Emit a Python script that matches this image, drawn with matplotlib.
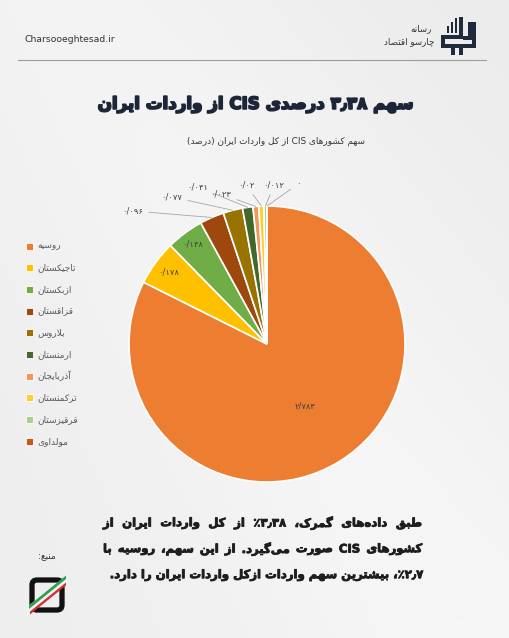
import numpy as np
import matplotlib
matplotlib.use('Agg')
import matplotlib.pyplot as plt
import matplotlib.patheffects as pe
from matplotlib.patches import Rectangle, FancyBboxPatch, Polygon

"""
CIS share of Iran imports - pie chart in a Persian infographic card
"""

W, H = 510, 638

countries = ['روسیه', 'تاجیکستان', 'ازبکستان', 'قزاقستان', 'بلاروس',
             'ارمنستان', 'آذربایجان', 'ترکمنستان', 'قرقیزستان', 'مولداوی']
values = [2.783, 0.178, 0.148, 0.096, 0.077, 0.041, 0.023, 0.02, 0.012, 0.0]
colors = ['#ED7D31', '#FFC000', '#70AD47', '#9E480E', '#997300',
          '#43682B', '#F1975A', '#FFCD33', '#A9D18E', '#C55A11']

title = 'سهم ۳٫۳۸ درصدی CIS از واردات ایران'
subtitle = 'سهم کشورهای CIS از کل واردات ایران (درصد)'
body_lines = ['طبق داده‌های گمرک، ۳٫۳۸٪ از کل واردات ایران از',
              'کشورهای CIS صورت می‌گیرد. از این سهم، روسیه با',
              '۲٫۷٪، بیشترین سهم واردات ازکل واردات ایران را دارد.']


"""
minimal arabic/persian shaping + visual reordering (no external libs)
"""
_table = [('ء', 0xFE80, 1), ('آ', 0xFE81, 2), ('أ', 0xFE83, 2), ('ؤ', 0xFE85, 2),
          ('إ', 0xFE87, 2), ('ئ', 0xFE89, 4), ('ا', 0xFE8D, 2), ('ب', 0xFE8F, 4),
          ('ة', 0xFE93, 2), ('ت', 0xFE95, 4), ('ث', 0xFE99, 4), ('ج', 0xFE9D, 4),
          ('ح', 0xFEA1, 4), ('خ', 0xFEA5, 4), ('د', 0xFEA9, 2), ('ذ', 0xFEAB, 2),
          ('ر', 0xFEAD, 2), ('ز', 0xFEAF, 2), ('س', 0xFEB1, 4), ('ش', 0xFEB5, 4),
          ('ص', 0xFEB9, 4), ('ض', 0xFEBD, 4), ('ط', 0xFEC1, 4), ('ظ', 0xFEC5, 4),
          ('ع', 0xFEC9, 4), ('غ', 0xFECD, 4), ('ف', 0xFED1, 4), ('ق', 0xFED5, 4),
          ('ك', 0xFED9, 4), ('ل', 0xFEDD, 4), ('م', 0xFEE1, 4), ('ن', 0xFEE5, 4),
          ('ه', 0xFEE9, 4), ('و', 0xFEED, 2), ('ى', 0xFEEF, 2), ('ي', 0xFEF1, 4),
          ('پ', 0xFB56, 4), ('چ', 0xFB7A, 4), ('ژ', 0xFB8A, 2), ('ک', 0xFB8E, 4),
          ('گ', 0xFB92, 4), ('ی', 0xFBFC, 4)]
FORMS = {c: (s, n) for c, s, n in _table}
LAMALEF = {'آ': 0xFEF5, 'أ': 0xFEF7, 'إ': 0xFEF9, 'ا': 0xFEFB}


def jt(c):
    return FORMS[c][1] if c in FORMS else 0


def shape(s):
    out = []
    i = 0
    while i < len(s):
        c = s[i]
        p = i > 0 and jt(s[i - 1]) == 4 and jt(c) in (2, 4)
        if c == 'ل' and i + 1 < len(s) and s[i + 1] in LAMALEF:
            out.append(chr(LAMALEF[s[i + 1]] + (1 if p else 0)))
            i += 2
            continue
        if c in FORMS:
            start, n = FORMS[c]
            nx = n == 4 and i + 1 < len(s) and jt(s[i + 1]) in (2, 4)
            idx = 3 if (p and nx) else 2 if nx else 1 if p else 0
            out.append(chr(start + idx))
        elif c != '\u200c':
            out.append(c)
        i += 1
    return ''.join(out)


def isdig(c):
    return c.isdigit() or '\u06F0' <= c <= '\u06F9'


MIRROR = {'(': ')', ')': '('}


def vis_word(w):
    cls = []
    for k, c in enumerate(w):
        if isdig(c) or (c.isascii() and c.isalpha()):
            cls.append('L')
        elif c in '٫/.,' and 0 < k < len(w) - 1 and isdig(w[k - 1]) and isdig(w[k + 1]):
            cls.append('L')
        else:
            cls.append('R')
    groups = []
    for c, t in zip(w, cls):
        if groups and groups[-1][0] == t:
            groups[-1][1].append(c)
        else:
            groups.append([t, [c]])
    res = ''
    for t, chars in reversed(groups):
        if t == 'R':
            res += ''.join(MIRROR.get(c, c) for c in reversed(chars))
        else:
            res += ''.join(chars)
    return res


def fa(s):
    words = shape(s).split(' ')
    return ' '.join(vis_word(w) for w in reversed(words))


def fa_words(s):
    # visual words, in logical (right to left) order
    return [vis_word(w) for w in shape(s).split(' ')]


def fa_num(v):
    s = '{:g}'.format(v).replace('.', '/')
    return s.translate(str.maketrans('0123456789', '۰۱۲۳۴۵۶۷۸۹'))


plt.rcParams['font.family'] = ['DejaVu Sans']

fig = plt.figure(figsize=(W / 100, H / 100), dpi=100)

# background
bg = fig.add_axes([0, 0, 1, 1])
bg.set_xlim(0, W)
bg.set_ylim(H, 0)
bg.axis('off')
yy, xx = np.mgrid[0:H, 0:W]
band = np.exp(-((xx * 0.8 - yy * 0.5 - 60) / 200.0) ** 2)
shade = 0.925 + 0.03 * band + 0.01 * (yy / H)
img = np.dstack([shade, shade, shade])
bg.imshow(np.clip(img, 0, 1), extent=[0, W, H, 0], aspect='auto', zorder=0)

# header
bg.text(25, 40, 'Charsooeghtesad.ir', fontsize=6.7, color='#333333', va='center', ha='left')
bg.plot([18, 486], [60, 60], color='#9c9c9c', lw=0.8)
bg.text(432, 29, fa('رسانه'), fontsize=6.3, color='#333333', ha='right', va='center')
bg.text(434, 42, fa('چارسو اقتصاد'), fontsize=6.3, color='#333333', ha='right', va='center')
navy = '#1f2a3b'
for (x0, y0, w0, h0) in [(447, 26, 2.5, 7), (451, 22, 2.5, 11), (455, 18, 2.5, 15),
                         (459.5, 17, 4, 22), (441, 35, 22, 4), (441, 35, 4, 13),
                         (468, 22, 4, 18), (463, 36, 9, 4), (441, 44, 35, 4),
                         (451, 44, 4, 11), (459, 44, 4, 11), (472, 22, 4, 26)]:
    bg.add_patch(Rectangle((x0, y0), w0, h0, color=navy, lw=0, zorder=3))

# titles
bg.text(255, 104, fa(title), fontsize=12, fontweight='bold', color='#1c2638',
        ha='center', va='center',
        path_effects=[pe.withStroke(linewidth=1.3, foreground='#1c2638')])
bg.text(276, 141, fa(subtitle), fontsize=6.4, color='#333333', ha='center', va='center')

# pie
cx, cy, r = 267, 344, 138
ax = fig.add_axes([(cx - r) / W, 1 - (cy + r) / H, 2 * r / W, 2 * r / H])
wedges, _ = ax.pie(values, colors=colors, startangle=90, counterclock=False,
                   radius=1, wedgeprops=dict(edgecolor='white', linewidth=1.2))
ax.set_xlim(-1, 1)
ax.set_ylim(-1, 1)

# labels inside the three biggest slices
inside_dist = [0.53, 0.88, 0.9]
for w, d, v in zip(wedges[:3], inside_dist, values[:3]):
    t = np.deg2rad((w.theta1 + w.theta2) / 2)
    ax.text(d * np.cos(t), d * np.sin(t), fa_num(v), fontsize=6, color='#404040',
            ha='center', va='center')

# outside labels with leader lines (label centers in pixels)
label_pos = [(133, 211), (172, 197), (198, 187), (221, 194), (246, 185), (274, 185), (298, 184)]
for w, (lx, ly), v in zip(wedges[3:], label_pos, values[3:]):
    t = np.deg2rad((w.theta1 + w.theta2) / 2)
    ax.annotate(fa_num(v), xy=(np.cos(t), np.sin(t)), xycoords='data',
                xytext=(lx, H - ly), textcoords='figure pixels',
                fontsize=6, color='#404040', ha='center', va='center',
                arrowprops=dict(arrowstyle='-', color='#a6a6a6', lw=0.6,
                                shrinkA=2, shrinkB=0))

# legend
for k, (name, col) in enumerate(zip(countries, colors)):
    y = 246 + k * 21.7
    bg.add_patch(Rectangle((26, y - 3.5), 7, 7, facecolor=col, edgecolor='white', lw=0.6, zorder=3))
    bg.text(37, y, fa(name), fontsize=6.5, color='#595959', ha='left', va='center')

# body text, first two lines justified
fig.canvas.draw()
renderer = fig.canvas.get_renderer()
right, left = 422, 103
body_style = dict(fontsize=8.4, fontweight='bold', color='#1e1e1e', va='center',
                  path_effects=[pe.withStroke(linewidth=0.6, foreground='#1e1e1e')])
for li, line in enumerate(body_lines):
    y = 523 + li * 26
    if li < 2:
        words = fa_words(line)
        texts = [bg.text(0, y, wd, ha='right', **body_style) for wd in words]
        widths = [t.get_window_extent(renderer).width for t in texts]
        gap = (right - left - sum(widths)) / (len(words) - 1)
        x = right
        for t, wd in zip(texts, widths):
            t.set_x(x)
            x -= wd + gap
    else:
        bg.text(right, y, fa(line), ha='right', **body_style)

# source
bg.text(47, 557, fa('منبع:'), fontsize=6.5, color='#333333', ha='center', va='center')
bg.add_patch(FancyBboxPatch((32, 580), 30, 30, boxstyle='round,pad=0,rounding_size=5',
                            facecolor='#efefef', edgecolor='#111111', lw=3.8, zorder=3))
bg.add_patch(Polygon([(27, 607), (27, 615), (67, 583), (67, 575)], closed=True,
                     facecolor='#f2f2f2', edgecolor='none', zorder=4))
bg.add_patch(Polygon([(29, 605.5), (29, 609), (66, 579), (66, 575.5)], closed=True,
                     facecolor='#2e9e4f', edgecolor='none', zorder=5))
bg.add_patch(Polygon([(30, 611.5), (30, 614.5), (66, 585.5), (66, 582.5)], closed=True,
                     facecolor='#d32f2f', edgecolor='none', zorder=5))

fig.savefig('out.png', dpi=100)
